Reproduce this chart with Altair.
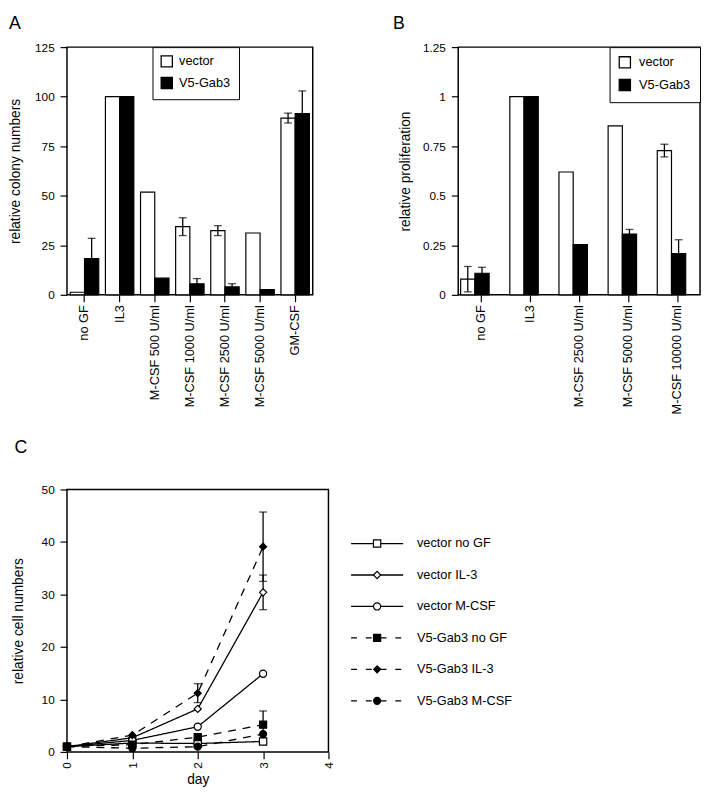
import altair as alt
import pandas as pd

FONT = "Liberation Sans"

# ---------------- Panel A data ----------------
A_categories = ["no GF", "IL3", "M-CSF 500 U/ml", "M-CSF 1000 U/ml",
                "M-CSF 2500 U/ml", "M-CSF 5000 U/ml", "GM-CSF"]
A_vector = [1.3, 100, 51.8, 34.4, 32.4, 31.2, 89.2]
A_vector_err = [0, 0, 0, 4.5, 2.5, 0, 2.5]
A_gab3 = [18.3, 100, 8.4, 5.6, 4.0, 2.6, 91.4]
A_gab3_err = [10.2, 0, 0, 2.6, 1.6, 0, 11.5]
A_yticks = [0, 25, 50, 75, 100, 125]

# ---------------- Panel B data ----------------
B_categories = ["no GF", "IL3", "M-CSF 2500 U/ml", "M-CSF 5000 U/ml",
                "M-CSF 10000 U/ml"]
B_vector = [0.079, 1.0, 0.62, 0.853, 0.728]
B_vector_err = [0.064, 0, 0, 0, 0.032]
B_gab3 = [0.109, 1.0, 0.253, 0.307, 0.208]
B_gab3_err = [0.030, 0, 0, 0.023, 0.07]
B_yticks = [0, 0.25, 0.5, 0.75, 1, 1.25]

groups = ["vector", "V5-Gab3"]

# ---------------- Panel C data ----------------
days = [0, 1, 2, 3]
series = ["vector no GF", "vector IL-3", "vector M-CSF",
          "V5-Gab3 no GF", "V5-Gab3 IL-3", "V5-Gab3 M-CSF"]
C_values = {
    "vector no GF":  [1.0, 1.7, 1.6, 2.0],
    "vector IL-3":   [1.0, 2.7, 8.2, 30.4],
    "vector M-CSF":  [1.0, 2.2, 4.8, 14.9],
    "V5-Gab3 no GF": [1.0, 1.4, 2.8, 5.2],
    "V5-Gab3 IL-3":  [1.0, 3.2, 11.2, 39.1],
    "V5-Gab3 M-CSF": [1.0, 0.7, 1.0, 3.4],
}
C_errors = {
    "vector no GF":  [0, 0, 0, 0],
    "vector IL-3":   [0, 0, 0, 3.3],
    "vector M-CSF":  [0, 0, 0, 0],
    "V5-Gab3 no GF": [0, 0, 0, 2.6],
    "V5-Gab3 IL-3":  [0, 0, 1.8, 6.6],
    "V5-Gab3 M-CSF": [0, 0, 0, 0],
}
C_xticks = [0, 1, 2, 3, 4]
C_yticks = [0, 10, 20, 30, 40, 50]

# style mappings
series_shapes = ["square", "diamond", "circle", "square", "diamond", "circle"]
series_fills = ["white", "white", "white", "black", "black", "black"]
series_sizes = [55, 50, 75, 70, 60, 70]
line_dash = [[1, 0], [1, 0], [1, 0], [8, 7], [8, 7], [8, 7]]
legend_dash = [[1, 0], [1, 0], [1, 0], [6, 9], [6, 9], [6, 9]]


def bar_panel(cats, vec, vec_err, gab, gab_err, ymax, yticks, ytitle, yfmt,
              legend, letter, pin, pout, width, tpad, title_dx):
    rows = []
    for i, c in enumerate(cats):
        rows.append(dict(category=c, group="vector", value=vec[i], err=vec_err[i]))
        rows.append(dict(category=c, group="V5-Gab3", value=gab[i], err=gab_err[i]))
    df = pd.DataFrame(rows)
    df["lo"] = df["value"] - df["err"]
    df["hi"] = df["value"] + df["err"]
    dfe = df[df["err"] > 0]

    x = alt.X("category:N", sort=cats,
              scale=alt.Scale(paddingInner=pin, paddingOuter=pout),
              axis=alt.Axis(title=None, labelAngle=-90, labelFontSize=13,
                            labelPadding=3, tickSize=7, labelLimit=300))
    xo = alt.XOffset("group:N", sort=groups,
                     scale=alt.Scale(domain=groups, paddingInner=0, paddingOuter=0))
    yaxis = alt.Axis(values=yticks, format=yfmt, title=ytitle,
                     titlePadding=tpad, labelPadding=6, tickSize=7)
    yscale = alt.Scale(domain=[0, ymax], nice=False)

    bars = alt.Chart(df).mark_bar(stroke="black", strokeWidth=1.2).encode(
        x=x, xOffset=xo,
        y=alt.Y("value:Q", scale=yscale, axis=yaxis),
        fill=alt.Fill("group:N", scale=alt.Scale(domain=groups, range=["white", "black"]),
                      legend=legend),
    )
    rule = alt.Chart(dfe).mark_rule(color="black", strokeWidth=1.3).encode(
        x=x, xOffset=xo,
        y=alt.Y("lo:Q", scale=yscale, axis=yaxis), y2="hi:Q")
    cap_hi = alt.Chart(dfe).mark_tick(color="black", thickness=1.3, size=8).encode(
        x=x, xOffset=xo, y=alt.Y("hi:Q", scale=yscale, axis=yaxis))
    cap_lo = alt.Chart(dfe).mark_tick(color="black", thickness=1.3, size=8).encode(
        x=x, xOffset=xo, y=alt.Y("lo:Q", scale=yscale, axis=yaxis))
    return alt.layer(bars, rule, cap_hi, cap_lo).properties(
        width=width, height=252,
        title=alt.TitleParams(letter, anchor="start", frame="bounds",
                              fontSize=18, font=FONT, fontWeight="normal",
                              offset=8, dx=title_dx))


legA = alt.Legend(title=None, orient="none", legendX=87, legendY=0,
                  strokeColor="black", fillColor="white", padding=8,
                  symbolType="square", symbolSize=130, symbolStrokeColor="black",
                  symbolStrokeWidth=1.3, labelFontSize=13, labelFont=FONT,
                  labelColor="black", rowPadding=5, labelOffset=6)
legB = alt.Legend(title=None, orient="top-right", offset=0,
                  strokeColor="black", fillColor="white", padding=9,
                  symbolType="square", symbolSize=130, symbolStrokeColor="black",
                  symbolStrokeWidth=1.3, labelFontSize=13, labelFont=FONT,
                  labelColor="black", rowPadding=6, labelOffset=8)

panelA = bar_panel(A_categories, A_vector, A_vector_err, A_gab3, A_gab3_err,
                   125, A_yticks, "relative colony numbers", "d", legA, "A",
                   0.19, 0.095, 250, 12, 0)
panelB = bar_panel(B_categories, B_vector, B_vector_err, B_gab3, B_gab3_err,
                   1.25, B_yticks, "relative proliferation", ".2~f", legB, "B",
                   0.18, 0.05, 246, 10, -6)

# ---------------- Panel C ----------------
crows = []
for s in series:
    for d, v, e in zip(days, C_values[s], C_errors[s]):
        crows.append(dict(series=s, day=d, value=v, err=e, lo=v - e, hi=v + e))
dfC = pd.DataFrame(crows)
dfCe = dfC[dfC["err"] > 0]

cx = alt.X("day:Q", scale=alt.Scale(domain=[0, 4], nice=False),
           axis=alt.Axis(values=C_xticks, format="d", labelAngle=-90, title="day",
                         tickSize=7, labelPadding=3, titlePadding=4))
cyscale = alt.Scale(domain=[0, 50], nice=False)
cyaxis = alt.Axis(values=C_yticks, title="relative cell numbers", tickSize=7,
                  labelPadding=6, titlePadding=16)

shape_enc = alt.Shape("series:N", scale=alt.Scale(domain=series, range=series_shapes), legend=None)
fill_enc = alt.Fill("series:N", scale=alt.Scale(domain=series, range=series_fills), legend=None)
size_enc = alt.Size("series:N", scale=alt.Scale(domain=series, range=series_sizes), legend=None)

c_lines = alt.Chart(dfC).mark_line(color="black", strokeWidth=1.3).encode(
    x=cx, y=alt.Y("value:Q", scale=cyscale, axis=cyaxis),
    detail="series:N",
    strokeDash=alt.StrokeDash("series:N", scale=alt.Scale(domain=series, range=line_dash), legend=None))
c_rule = alt.Chart(dfCe).mark_rule(color="black", strokeWidth=1.3).encode(
    x=cx, y=alt.Y("lo:Q", scale=cyscale, axis=cyaxis), y2="hi:Q")
c_cap_hi = alt.Chart(dfCe).mark_tick(color="black", thickness=1.3, size=8, orient="horizontal").encode(
    x=cx, y=alt.Y("hi:Q", scale=cyscale, axis=cyaxis))
c_cap_lo = alt.Chart(dfCe).mark_tick(color="black", thickness=1.3, size=8, orient="horizontal").encode(
    x=cx, y=alt.Y("lo:Q", scale=cyscale, axis=cyaxis))
c_pts = alt.Chart(dfC).mark_point(filled=True, stroke="black", strokeWidth=1.2, opacity=1).encode(
    x=cx, y=alt.Y("value:Q", scale=cyscale, axis=cyaxis),
    shape=shape_enc, fill=fill_enc, size=size_enc)

panelC = alt.layer(c_lines, c_rule, c_cap_hi, c_cap_lo, c_pts).properties(
    width=266, height=267,
    title=alt.TitleParams("C", anchor="start", frame="bounds", fontSize=18,
                          font=FONT, fontWeight="normal", offset=27, dx=3))

# legend panel for C
dfL = pd.DataFrame({"series": series})
ly = alt.Y("series:N", sort=series,
           scale=alt.Scale(type="point", range=[55, 215], padding=0), axis=None)
l_rule = alt.Chart(dfL).mark_rule(color="black", strokeWidth=1.3).encode(
    y=ly, x=alt.value(0), x2=alt.value(53),
    strokeDash=alt.StrokeDash("series:N", scale=alt.Scale(domain=series, range=legend_dash), legend=None))
l_pts = alt.Chart(dfL).mark_point(filled=True, stroke="black", strokeWidth=1.2, opacity=1).encode(
    y=ly, x=alt.value(26.5), shape=shape_enc, fill=fill_enc, size=size_enc)
l_txt = alt.Chart(dfL).mark_text(align="left", baseline="middle", fontSize=13,
                                 font=FONT, color="black").encode(
    y=ly, x=alt.value(67), text="series:N")
legendC = alt.layer(l_rule, l_pts, l_txt).properties(
    width=200, height=267, view=alt.ViewBackground(stroke="transparent"))

indep = dict(fill="independent", shape="independent", size="independent",
             strokeDash="independent")

top = alt.hconcat(panelA, panelB, spacing=79).resolve_scale(**indep).resolve_legend(fill="independent")
bottom = alt.hconcat(panelC, legendC, spacing=14).resolve_scale(**indep)

chart = alt.vconcat(top, bottom, spacing=24).resolve_scale(**indep).resolve_legend(
    fill="independent").properties(padding=0).configure_axis(
    labelFont=FONT, titleFont=FONT, labelColor="black", titleColor="black",
    tickColor="black", domain=False, grid=False, labelFontSize=12,
    titleFontSize=14, titleFontWeight="normal", tickWidth=1.2
).configure_view(stroke="black", strokeWidth=1.5).configure_title(color="black")

chart.save("out.html", embed_options={"renderer": "svg", "actions": False})
